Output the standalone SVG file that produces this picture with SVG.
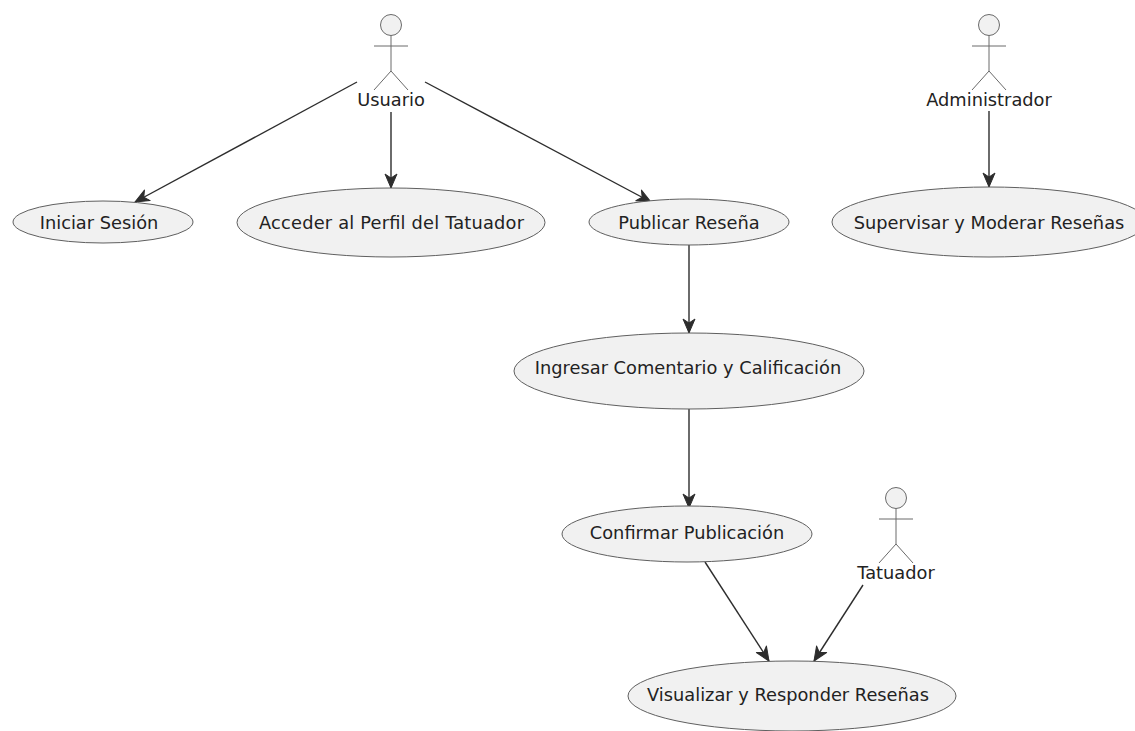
<svg xmlns="http://www.w3.org/2000/svg" width="1135" height="731" viewBox="0 0 1135 731">
<style>
.u{fill:#f1f1f1;stroke:#5f5f5f;stroke-width:1}
.a{fill:#f1f1f1;stroke:#6a6a6a;stroke-width:1}
.l{fill:none;stroke:#6a6a6a;stroke-width:1}
.c{fill:none;stroke:#2d2d2d;stroke-width:1.4}
.h{fill:#2d2d2d;stroke:#2d2d2d;stroke-width:1;stroke-linejoin:round}
text{font-family:"DejaVu Sans",sans-serif;font-size:17.800px;fill:#222;text-anchor:middle}
</style>
<defs>
<g id="actor"><circle class="a" cx="0" cy="0" r="10.5"/><path class="l" d="M0 10.500V46M-17 21H17M0 46L-17 65M0 46L17 65"/></g>
<marker id="ah" viewBox="0 0 16 14" refX="15" refY="7" markerWidth="16" markerHeight="14" markerUnits="userSpaceOnUse" orient="auto"><path class="h" d="M15 7L1 1L5 7L1 13Z"/></marker>
</defs>
<rect width="1135" height="731" fill="#fff"/>
<g id="connectors">
<line class="c" x1="357" y1="82" x2="135" y2="202" marker-end="url(#ah)"/>
<line class="c" x1="391" y1="112" x2="391" y2="188" marker-end="url(#ah)"/>
<line class="c" x1="425" y1="82" x2="651" y2="202" marker-end="url(#ah)"/>
<line class="c" x1="989" y1="111" x2="989" y2="187" marker-end="url(#ah)"/>
<line class="c" x1="689" y1="245" x2="689" y2="333" marker-end="url(#ah)"/>
<line class="c" x1="689" y1="409" x2="689" y2="508" marker-end="url(#ah)"/>
<line class="c" x1="705" y1="562" x2="769" y2="661" marker-end="url(#ah)"/>
<line class="c" x1="863" y1="585" x2="814" y2="661" marker-end="url(#ah)"/>
</g>
<g id="actor-usuario"><use href="#actor" x="391" y="25"/><text x="391" y="106">Usuario</text></g>
<g id="actor-administrador"><use href="#actor" x="989" y="25"/><text x="989" y="106">Administrador</text></g>
<g id="actor-tatuador"><use href="#actor" x="896" y="498"/><text x="896" y="579">Tatuador</text></g>
<g id="uc-iniciar"><ellipse class="u" cx="103" cy="222" rx="90" ry="21"/><text x="99" y="229">Iniciar Sesión</text></g>
<g id="uc-acceder"><ellipse class="u" cx="391" cy="222.500" rx="154" ry="34.500"/><text x="391.500" y="229" textLength="265">Acceder al Perfil del Tatuador</text></g>
<g id="uc-publicar"><ellipse class="u" cx="689" cy="222" rx="100" ry="23"/><text x="689" y="229">Publicar Reseña</text></g>
<g id="uc-supervisar"><ellipse class="u" cx="989" cy="222" rx="157" ry="35"/><text x="989" y="229">Supervisar y Moderar Reseñas</text></g>
<g id="uc-ingresar"><ellipse class="u" cx="689" cy="371" rx="175" ry="38"/><text x="688" y="374">Ingresar Comentario y Calificación</text></g>
<g id="uc-confirmar"><ellipse class="u" cx="687" cy="534" rx="125" ry="28"/><text x="687" y="539">Confirmar Publicación</text></g>
<g id="uc-visualizar"><ellipse class="u" cx="792" cy="696" rx="164" ry="35"/><text x="788" y="701">Visualizar y Responder Reseñas</text></g>
</svg>
